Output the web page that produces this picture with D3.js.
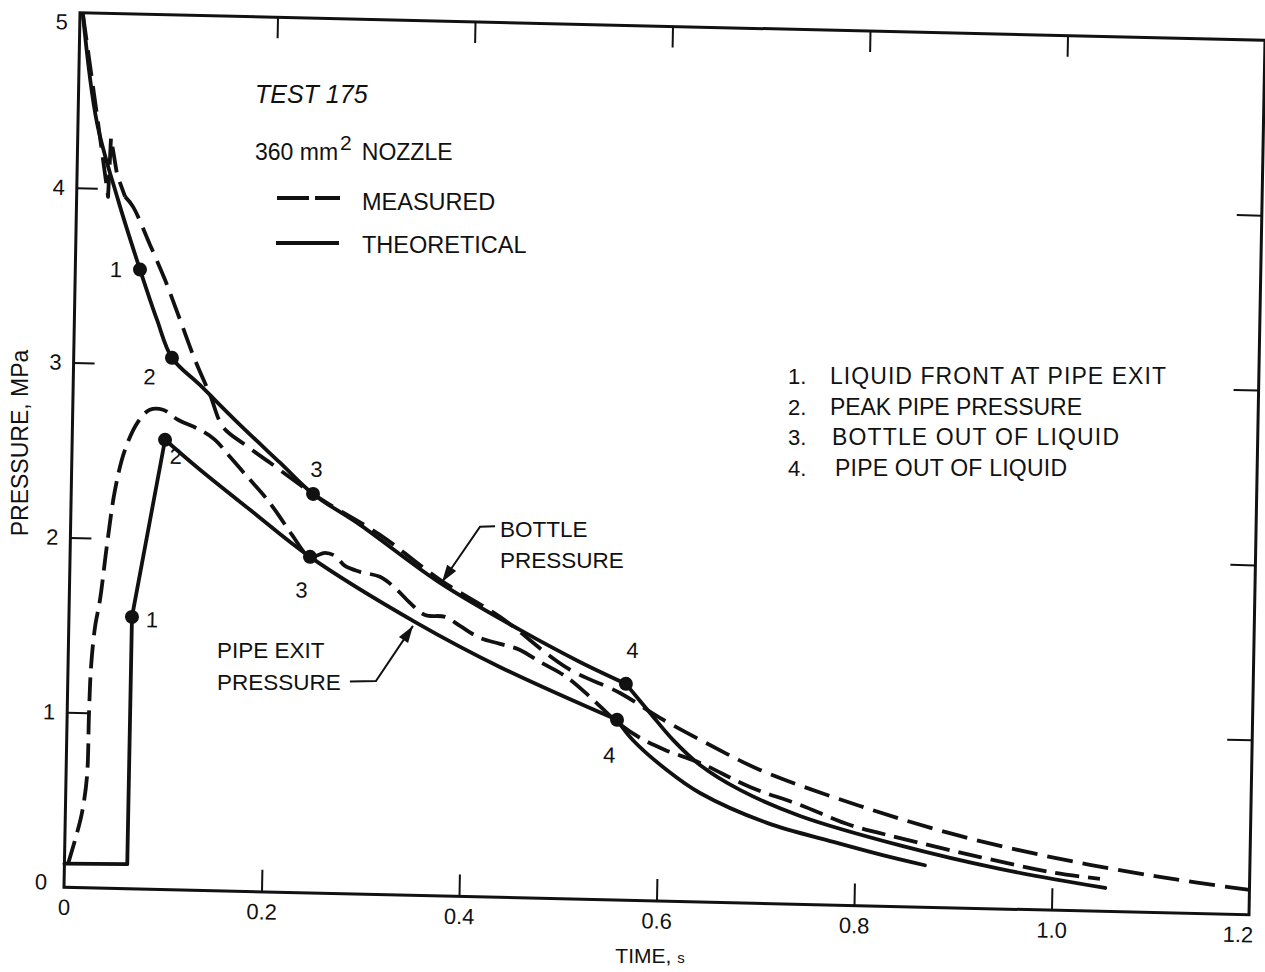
<!DOCTYPE html>
<html>
<head>
<meta charset="utf-8">
<script src="https://cdn.jsdelivr.net/npm/d3@7"></script>
<style>
  body { margin: 0; background: #fff; }
  text { font-family: "Liberation Sans", Arial, Helvetica, sans-serif; fill: #111; }
</style>
</head>
<body>
<div id="chart"></div>
<script>
// values: [time s, pressure MPa]
const bottleTheory = [
  [0.003, 4.99], [0.0192, 4.374], [0.0419, 3.937], [0.0655, 3.54], [0.0836, 3.256],
  [0.0995, 3.04], [0.128, 2.89], [0.1696, 2.666], [0.2108, 2.455], [0.2448, 2.281],
  [0.293, 2.11], [0.375, 1.789], [0.4568, 1.531], [0.518, 1.356], [0.565, 1.237],
  [0.59, 1.074], [0.6137, 0.923], [0.6415, 0.783], [0.6824, 0.646], [0.7437, 0.505],
  [0.8455, 0.35], [0.947, 0.229], [1.054, 0.134]
]
const pipeTheory = [
  [0, 0.135], [0.0636, 0.14], [0.0638, 1.554], [0.094, 2.571], [0.13, 2.404],
  [0.1813, 2.182], [0.2429, 1.921], [0.352, 1.558], [0.437, 1.317], [0.5567, 1.03],
  [0.573, 0.917], [0.608, 0.75], [0.642, 0.623], [0.7104, 0.461], [0.778, 0.361],
  [0.828, 0.292], [0.871, 0.24]
]
const bottleMeasured = [
  [0.003, 4.99], [0.0203, 4.374], [0.0318, 3.952], [0.0337, 4.29], [0.0405, 4.08],
  [0.049, 3.955], [0.0572, 3.899], [0.0751, 3.684], [0.091, 3.485], [0.107, 3.258],
  [0.1228, 3.032], [0.1387, 2.834], [0.1524, 2.652], [0.175, 2.553], [0.2007, 2.453],
  [0.2386, 2.304], [0.2622, 2.221], [0.3133, 2.056], [0.3749, 1.807], [0.4363, 1.603],
  [0.5051, 1.32], [0.5592, 1.184], [0.6001, 1.047], [0.6512, 0.899], [0.7023, 0.763],
  [0.8042, 0.57], [0.906, 0.412], [1.0077, 0.294], [1.109, 0.204], [1.2, 0.142]
]
const pipeMeasured = [
  [0.0036, 0.133], [0.0122, 0.312], [0.0168, 0.427], [0.0212, 0.633], [0.0221, 0.999],
  [0.0233, 1.263], [0.0266, 1.492], [0.0311, 1.647], [0.0372, 1.963], [0.0443, 2.278],
  [0.0536, 2.508], [0.0663, 2.67], [0.078, 2.74], [0.0914, 2.742], [0.1067, 2.687],
  [0.1292, 2.632], [0.1446, 2.577], [0.16, 2.482], [0.1808, 2.353], [0.1962, 2.258],
  [0.2087, 2.168], [0.2243, 2.044], [0.2429, 1.921], [0.258, 1.946], [0.2682, 1.93],
  [0.2785, 1.874], [0.2938, 1.842], [0.3141, 1.816], [0.3295, 1.755], [0.345, 1.671],
  [0.3604, 1.604], [0.3807, 1.596], [0.396, 1.546], [0.4165, 1.48], [0.4368, 1.449],
  [0.4572, 1.417], [0.4776, 1.351], [0.5032, 1.274], [0.5289, 1.158], [0.5567, 1.018],
  [0.5803, 0.93], [0.6058, 0.8645], [0.6415, 0.795], [0.6925, 0.664], [0.7435, 0.568],
  [0.7945, 0.46], [0.8453, 0.392], [0.9266, 0.294], [0.9978, 0.218], [1.0485, 0.185]
]
// numbered events on the theoretical curves
const bottleEvents = [[0.0655, 3.54], [0.0995, 3.04], [0.2448, 2.281], [0.565, 1.237]]
const pipeEvents = [[0.0638, 1.554], [0.094, 2.571], [0.2429, 1.921], [0.5567, 1.03]]
const eventLabels = ["1", "2", "3", "4"]
const eventNotes = ["LIQUID FRONT AT PIPE EXIT", "PEAK PIPE PRESSURE", "BOTTLE OUT OF LIQUID", "PIPE OUT OF LIQUID"]
// where the two leader arrows point
const bottleArrowAt = [0.377, 1.795]
const pipeArrowAt = [0.3484, 1.54]

const xTicks = [0, 0.2, 0.4, 0.6, 0.8, 1.0, 1.2]
const xTickLabels = ["0", "0.2", "0.4", "0.6", "0.8", "1.0", "1.2"]
const yTicks = [0, 1, 2, 3, 4, 5]

const W = 1185, H = 874.5
const ink = "#111"

let svg = d3.select("#chart").append("svg")
  .attr("width", 1265).attr("height", 972)

// the scan is slightly rotated, so the plot frame gets the same tilt
let plot = svg.append("g")
  .attr("transform", "matrix(1,0.02321,-0.0183,1,80,12.75)")

let x = d3.scaleLinear().domain([0, 1.2]).range([0, W])
let y = d3.scaleLinear().domain([0, 5]).range([H, 0])

// frame
plot.append("rect")
  .attr("x", 0).attr("y", 0).attr("width", W).attr("height", H)
  .attr("fill", "none").attr("stroke", ink).attr("stroke-width", 3)

// axes with inward ticks
let bottom = plot.append("g").attr("transform", `translate(0,${H})`)
  .call(d3.axisBottom(x).tickValues(xTicks).tickSize(-22).tickSizeOuter(0).tickPadding(12)
    .tickFormat((d, i) => xTickLabels[i]))
let left = plot.append("g")
  .call(d3.axisLeft(y).tickValues(yTicks).tickSize(-21).tickSizeOuter(0).tickPadding(12)
    .tickFormat(d3.format("d")))
plot.append("g")
  .call(d3.axisTop(x).tickValues(xTicks.slice(1, -1)).tickSize(-21).tickSizeOuter(0).tickFormat(""))
plot.append("g").attr("transform", `translate(${W},0)`)
  .call(d3.axisRight(y).tickValues(yTicks.slice(1, -1)).tickSize(-25).tickSizeOuter(0).tickFormat(""))

plot.selectAll(".domain").remove()
plot.selectAll(".tick line").attr("stroke", ink).attr("stroke-width", 2)
plot.selectAll(".tick text").attr("font-size", 22).attr("fill", ink)
  .attr("font-family", '"Liberation Sans", Arial, sans-serif')
// end ticks sit on the frame, hide their lines
bottom.selectAll(".tick").filter(d => d === 0 || d === 1.2).select("line").remove()
left.selectAll(".tick").filter(d => d === 0 || d === 5).select("line").remove()
bottom.selectAll(".tick").filter(d => d === 1.2).select("text").attr("text-anchor", "end").attr("x", 4)
left.selectAll(".tick").filter(d => d === 5).select("text").attr("dy", "0.75em")
left.selectAll(".tick").filter(d => d === 0).select("text").attr("dy", "0.1em").attr("x", -17)

// curves, split where the original has a corner
let smooth = d3.line().x(d => x(d[0])).y(d => y(d[1])).curve(d3.curveCatmullRom.alpha(0.5))
let straight = d3.line().x(d => x(d[0])).y(d => y(d[1]))

function drawSeries(data, pieces, dash) {
  pieces.forEach(([a, b, kind]) => {
    plot.append("path").datum(data.slice(a, b + 1))
      .attr("d", kind === "linear" ? straight : smooth)
      .attr("fill", "none").attr("stroke", ink).attr("stroke-width", 3.8)
      .attr("stroke-linejoin", "round").attr("stroke-linecap", dash ? "butt" : "round")
      .attr("stroke-dasharray", dash)
  })
}
drawSeries(bottleTheory, [[0, 14, "smooth"], [14, bottleTheory.length - 1, "smooth"]], null)
drawSeries(pipeTheory, [[0, 3, "linear"], [3, 9, "smooth"], [9, pipeTheory.length - 1, "smooth"]], null)
drawSeries(bottleMeasured, [[0, 5, "linear"], [5, bottleMeasured.length - 1, "smooth"]], "26,10")
drawSeries(pipeMeasured, [[0, pipeMeasured.length - 1, "smooth"]], "24,9")

// event markers and their numbers
const bottleLabelOffset = [[-24, 0], [-22, 19], [3, -25], [6, -34]]
const pipeLabelOffset = [[20, 2], [11, 16], [-8, 33], [-7, 35]]

function drawEvents(events, offsets) {
  plot.selectAll(null).data(events).enter().append("circle")
    .attr("cx", d => x(d[0])).attr("cy", d => y(d[1])).attr("r", 7).attr("fill", ink)
  plot.selectAll(null).data(events).enter().append("text")
    .attr("x", (d, i) => x(d[0]) + offsets[i][0])
    .attr("y", (d, i) => y(d[1]) + offsets[i][1] + 8)
    .attr("text-anchor", "middle").attr("font-size", 22)
    .text((d, i) => eventLabels[i])
}
drawEvents(bottleEvents, bottleLabelOffset)
drawEvents(pipeEvents, pipeLabelOffset)

// leader arrows
function leader(at, pts) {
  let tx = x(at[0]), ty = y(at[1])
  let p = pts.map(o => [tx + o[0], ty + o[1]])
  p.push([tx, ty])
  plot.append("path").attr("d", d3.line()(p))
    .attr("fill", "none").attr("stroke", ink).attr("stroke-width", 2)
  let a = p[p.length - 2]
  let ang = Math.atan2(ty - a[1], tx - a[0])
  let len = 17, hw = 5.5
  let bx = tx - len * Math.cos(ang), by = ty - len * Math.sin(ang)
  let nx = -Math.sin(ang) * hw, ny = Math.cos(ang) * hw
  plot.append("path")
    .attr("d", `M${tx},${ty}L${bx + nx},${by + ny}L${bx - nx},${by - ny}Z`)
    .attr("fill", ink)
}
leader(bottleArrowAt, [[52, -57], [37, -56]])
leader(pipeArrowAt, [[-62, 57], [-36, 56]])

// free text (not tilted)
svg.append("text").attr("x", 255).attr("y", 103).attr("font-size", 25).attr("font-style", "italic")
  .text("TEST 175")
let noz = svg.append("text").attr("x", 255).attr("y", 160).attr("font-size", 23)
noz.append("tspan").text("360 mm")
noz.append("tspan").attr("font-size", 21).attr("dy", -10).attr("dx", 2).text("2")
noz.append("tspan").attr("dy", 10).attr("dx", 10).text("NOZZLE")

svg.append("line").attr("x1", 277).attr("x2", 340).attr("y1", 198).attr("y2", 198)
  .attr("stroke", ink).attr("stroke-width", 4).attr("stroke-dasharray", "32,6")
svg.append("text").attr("x", 362).attr("y", 210).attr("font-size", 23.5).text("MEASURED")
svg.append("line").attr("x1", 276).attr("x2", 339).attr("y1", 243).attr("y2", 243)
  .attr("stroke", ink).attr("stroke-width", 4)
svg.append("text").attr("x", 362).attr("y", 253).attr("font-size", 23.5).text("THEORETICAL")

const noteWidth = [336, 252, 287, 232]
svg.selectAll(".note-num").data(eventNotes).enter().append("text")
  .attr("class", "note-num")
  .attr("x", 788).attr("y", (d, i) => 384 + i * 30.5)
  .attr("font-size", 22).text((d, i) => eventLabels[i] + ".")
svg.selectAll(".note").data(eventNotes).enter().append("text")
  .attr("class", "note")
  .attr("x", (d, i) => [830, 830, 832, 835][i]).attr("y", (d, i) => 384 + i * 30.5)
  .attr("font-size", 23).attr("textLength", (d, i) => noteWidth[i]).attr("lengthAdjust", "spacing")
  .text(d => d)

svg.append("text").attr("x", 500).attr("y", 537).attr("font-size", 22.5).text("BOTTLE")
svg.append("text").attr("x", 500).attr("y", 568).attr("font-size", 22.5).text("PRESSURE")
svg.append("text").attr("x", 217).attr("y", 658).attr("font-size", 22.5).text("PIPE EXIT")
svg.append("text").attr("x", 217).attr("y", 690).attr("font-size", 22.5).text("PRESSURE")

// axis titles
svg.append("text")
  .attr("transform", "translate(28,443) rotate(-90)")
  .attr("text-anchor", "middle").attr("font-size", 23)
  .text("PRESSURE, MPa")
let tt = svg.append("text").attr("x", 650).attr("y", 963).attr("text-anchor", "middle").attr("font-size", 21)
tt.append("tspan").text("TIME, ")
tt.append("tspan").attr("font-size", 15).text("s")
</script>
</body>
</html>
